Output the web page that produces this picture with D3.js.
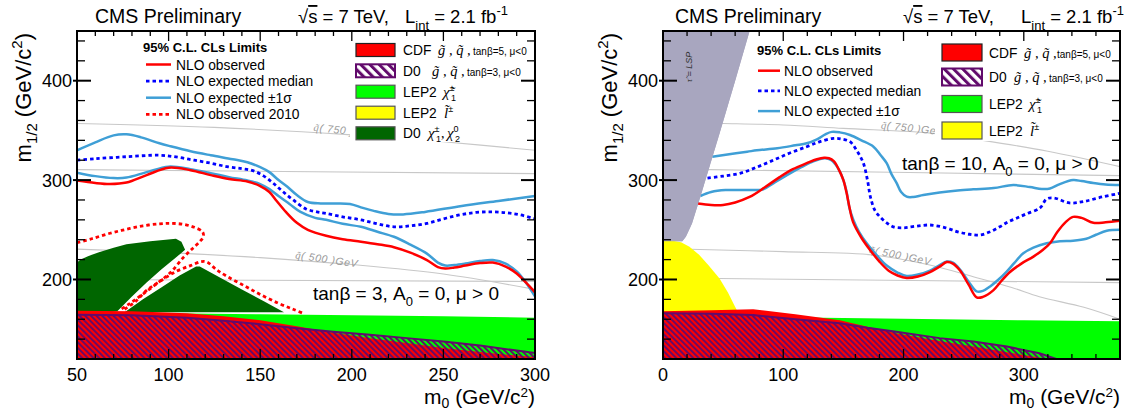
<!DOCTYPE html>
<html>
<head>
<meta charset="utf-8">
<script src="https://cdn.jsdelivr.net/npm/d3@7"></script>
<style>
  body { margin: 0; background: #fff; }
  svg { display: block; font-family: "Liberation Sans", Arial, Helvetica, sans-serif; }
</style>
</head>
<body>
<svg id="chart" width="1126" height="412"></svg>
<script>
// ---------------- data: points are [m0, m1/2] in GeV/c^2 ----------------

// common
const yDomain = [120, 450];
const yMajorTicks = [200, 300, 400];
const xTicksL = [50, 100, 150, 200, 250, 300];
const xTicksR = [0, 100, 200, 300];

// ---- left panel: tanβ = 3 ----
const obsL = [[50,299.5],[60,297],[68,296],[77,297.5],[88,305],[100,312.5],[112,310],[123,305],[133,301],[143,298.5],[150,294],[155,288],[159,279],[164,268],[170,257],[176,250],[186,244],[195,240.5],[205,238],[214,235.5],[223,232.5],[232,227],[241,219.5],[247,212.5],[251,211],[256,212],[262,214],[270,216.5],[277,217],[284,213],[290,206],[295,197],[300,187]];
const expL = [[50,320],[60,321.5],[77,323.5],[95,325],[105,323],[114,320],[123,317],[132,313.5],[140,311.5],[146,309.5],[152,304],[157,297],[162,289],[168,280],[175,271],[181,268],[186,266.5],[195,263],[205,260],[214,256],[223,253],[232,254],[241,256.5],[250,261],[259,265],[268,267.5],[277,268],[285,267],[292,265],[300,261]];
const expUpL = [[50,330],[60,338],[70,345],[77,346],[85,343],[95,337],[101,334],[112,329],[123,325],[135,321],[143,318],[150,313],[155,308],[160,300],[165,293],[170,285],[176,278],[183,276.5],[190,276.5],[199,276],[206,272],[212,269],[220,266],[228,265.5],[240,268],[260,274],[280,279],[300,284]];
const expDnL = [[50,307.5],[60,304],[70,302],[77,302.5],[88,308],[100,313.5],[112,311],[123,307],[133,303],[143,299.5],[150,296],[155,291],[160,284],[166,276],[172,268],[180,262],[186,260],[195,256],[205,253],[214,248],[223,243],[232,235],[241,226],[247,217],[251,214],[256,214.5],[262,216],[270,218.5],[277,219.5],[284,216],[290,208],[295,197],[300,183]];
const obs2010aL = [[50,237],[58,241],[68,246.5],[77,250.5],[86,254],[95,256],[101,256.5],[108,255.5],[114,252.5],[118.5,248],[119,243.5],[117,238],[113,231],[108,222],[101,207],[93,195],[85,184],[79,176],[74,170]];
const obs2010bL = [[76,170],[82,178],[88,189],[96,199],[104,208],[112,214],[118,218],[121,217.5],[126,210],[132,203],[141,194],[150,185],[160,176],[168,170],[174,165.5]];
const lepChiTopL = [[50,167],[100,166],[150,165],[200,164],[250,163],[300,161.5]];
const lepSlepL = [[50,120],[50,208],[55,202],[60,193],[64,183],[68,170],[69,120]];
const d0ChiAL = [[50,165],[50,217],[52,220],[56,223.5],[62,227.5],[70,232],[77,235.5],[90,238.5],[104,241],[107,238],[109,230],[104,222],[96,210],[88,197],[80,183],[72,168],[60,165]];
const d0ChiBL = [[76,167],[86,180],[96,192],[106,204],[115,213],[117,213],[128,202],[140,190],[152,178],[163,167]];
const cdfTopL = [[50,168.5],[80,168],[110,166],[130,163],[150,159],[170,153],[190,146.5],[210,141],[230,136],[250,131],[270,127],[290,123.5],[300,122]];
const d0TopL = [[50,164.5],[80,164],[110,161.5],[130,158.5],[150,155],[170,151],[190,147.5],[210,144.5],[230,141],[250,137.5],[270,133.5],[290,128.5],[300,126]];
const squark750L = [[50,357],[125,353],[200,345.5],[250,338.5],[300,330]];
const gluino750L = [[50,310.5],[300,306.5]];
const squark500L = [[50,230.5],[100,227],[150,222],[200,215],[250,205.5],[300,190]];
const gluino500L = [[50,200],[300,198]];

// ---- right panel: tanβ = 10 ----
const obsR = [[29,276.5],[40,275],[50,275],[60,277.5],[72,283],[85,293],[97,303],[108,311],[119.5,317],[128,321],[134,322.5],[138,322],[142,319],[146,311],[150,300],[152.5,288],[154.5,276],[158,258],[165,242],[172,230],[180,218],[188,208.5],[195,204],[202.6,201.5],[212,203],[222,207.5],[230,213],[236,217.5],[241,216],[247,209],[254,195],[260.8,182],[266,182.5],[274.6,189],[281,198],[288.5,207.5],[298,216],[308,223],[316,230],[321.8,236.5],[328,248],[335,258],[341,263],[348,262],[357.8,257],[368,257.5],[380,259]];
const expR = [[37,302],[50,304],[64,306.8],[78,313],[91.7,320],[105,327],[119.5,333.6],[130,338.5],[141.6,342],[148,341.5],[155.5,338.6],[161,330],[166.6,317],[170,300],[172.5,283],[176,270],[180.4,263],[186,257],[191.5,253],[200,252],[210,253.5],[222,254.8],[235,252],[245,248],[255,245.5],[263.6,244.7],[272,248],[280,253],[287,258],[294,261.6],[302,266],[313.5,272],[319,281],[325,282],[338,277],[350,278.5],[365,283],[380,286.7]];
const expUpR = [[41,323.5],[55,326],[70,328.5],[78,330],[95,332],[110,335],[119.5,337],[128,341],[135,346],[140.3,348.5],[147,348],[155.5,345.4],[165,340],[175,333.6],[181,325],[186,317],[190,306],[194.3,297],[198,288],[202.6,283.3],[208,283],[216.4,285],[230,287.5],[245,289.5],[258,290.7],[275,292],[291.3,295],[305,293],[315,291],[321.8,291.5],[330,296],[341,300],[348,299],[357.8,297],[368,295.5],[380,295]];
const expDnR = [[31,284],[40,288],[52,290],[64,290],[75,290],[83.4,290.7],[92,297],[105.6,306.8],[115,313],[125,319],[134.7,322],[140,320],[145,313],[150,300],[152.7,288],[155,272],[158.3,260],[163,248],[169.4,236.4],[178,224],[186,214],[195,207],[202.6,203.5],[212,205],[222,209],[230,214.5],[236,218],[241,217],[247,210],[254,198],[260.8,188],[266,188.5],[272,193],[279,200],[285.8,208],[292,216.5],[299.6,226.3],[308,232],[319,236.4],[330,238.5],[341,239],[352,241],[360,245],[369,249],[380,250]];
const stauR = [[0,450],[72,450],[60,400],[47,347],[39,315],[31,283],[24,256],[19,243],[16,238.5],[0,238.5]];
const lepChiTopR = [[0,164],[100,162],[200,160.5],[300,159],[380,158]];
const lepSlepR = [[0,120],[0,239],[8,239],[15,237.5],[22,233],[30,225],[38,214],[47,201],[54,187],[61,170],[62,120]];
const cdfTopR = [[0,168],[40,169],[75,170],[110,165],[147,159],[170,152.5],[194,146],[220,140],[258,132.5],[290,126],[320,120]];
const d0TopR = [[0,166],[40,165.5],[75,164.2],[110,160],[147,156],[170,151.5],[194,147.5],[230,141],[258,137.5],[286,132.5],[313,125.7],[327,120]];
const squark750R = [[0,358],[50,357],[100,355.5],[150,352],[225,347],[266,340],[320,329],[380,313.5]];
const gluino750R = [[0,311],[39,310.5],[380,304.5]];
const squark500R = [[0,231],[22.5,230.4],[100,228],[175,224.6],[220,215],[258,202.8],[290,192],[313,182.7],[350,172],[380,160]];
const gluino500R = [[0,201.5],[47,201],[380,196.8]];

// ---------------- styling ----------------
const SANS = '"Liberation Sans", Arial, Helvetica, sans-serif';
const SERIF = '"Liberation Serif", "Times New Roman", serif';
const C = {
  red: "#ff0000", blue: "#0000ff", azure: "#3f9fd6", lep: "#00ff00", slep: "#ffff00",
  d0chi: "#006600", purple: "#620a6c", stau: "#a8a6bf", iso: "#c8c8c8", isoText: "#999999"
};

const svg = d3.select("#chart");
const defs = svg.append("defs");

function hatchPattern(id, period, width) {
  const p = defs.append("pattern").attr("id", id)
    .attr("patternUnits", "userSpaceOnUse")
    .attr("width", period).attr("height", period)
    .attr("patternTransform", "rotate(-45)");
  p.append("rect").attr("width", width).attr("height", period).attr("fill", C.purple);
}
hatchPattern("d0hatch", 4.0, 1.9);
hatchPattern("d0hatchKey", 6.5, 3);

// text with sub/superscripts: parts [{t, shift, size, family, style, x, deco}]
function rich(parent, x, y, parts, opts = {}) {
  const t = parent.append("text").attr("x", x).attr("y", y)
    .attr("font-size", opts.size || 14).attr("fill", opts.fill || "#000");
  if (opts.weight) t.attr("font-weight", opts.weight);
  if (opts.anchor) t.attr("text-anchor", opts.anchor);
  if (opts.transform) t.attr("transform", opts.transform);
  let cur = 0;
  parts.forEach(p => {
    const ts = t.append("tspan").text(p.t);
    const target = p.shift || 0;
    if (p.x != null) ts.attr("x", p.x);
    if (target !== cur) ts.attr("dy", target - cur);
    cur = target;
    if (p.size) ts.attr("font-size", p.size);
    if (p.family) ts.attr("font-family", p.family);
    if (p.style) ts.attr("font-style", p.style);
    if (p.deco) ts.attr("text-decoration", p.deco);
  });
  return t;
}

function interp(arr, xv) {
  for (let i = 0; i < arr.length - 1; i++) {
    const a = arr[i], b = arr[i + 1];
    if (xv >= a[0] && xv <= b[0]) return a[1] + (b[1] - a[1]) * (xv - a[0]) / (b[0] - a[0]);
  }
  return arr[arr.length - 1][1];
}

function underTop(top) {
  return [[top[0][0], yDomain[0]], ...top, [top[top.length - 1][0], yDomain[0]]];
}

function drawPanel(cfg) {
  const x = d3.scaleLinear().domain(cfg.xDomain).range([cfg.x0, cfg.x1]);
  const y = d3.scaleLinear().domain(yDomain).range([359, 31]);
  const g = svg.append("g");
  const clipId = "clip-" + cfg.id;
  defs.append("clipPath").attr("id", clipId).append("rect")
    .attr("x", cfg.x0).attr("y", 31).attr("width", cfg.x1 - cfg.x0).attr("height", 328);
  const plot = g.append("g").attr("clip-path", `url(#${clipId})`);

  const poly = d3.line().x(d => x(d[0])).y(d => y(d[1]));
  const smooth = d3.line().x(d => x(d[0])).y(d => y(d[1])).curve(d3.curveCatmullRom.alpha(0.5));

  // iso-mass lines
  cfg.iso.forEach(l => plot.append("path").attr("d", smooth(l)).attr("fill", "none")
    .attr("stroke", C.iso).attr("stroke-width", 1.1));
  cfg.isoLabels.forEach(lab => {
    const px = x(lab.m0), py = y(interp(lab.line, lab.m0));
    const px2 = x(lab.m0 + 20), py2 = y(interp(lab.line, lab.m0 + 20));
    const ang = Math.atan2(py2 - py, px2 - px) * 180 / Math.PI + (lab.tilt || 0);
    rich(plot, 0, 0, [
      { t: "q\u0303", family: SERIF },
      { t: "( " + lab.mass + " )GeV" }
    ], { size: 10.5, fill: C.isoText, transform: `translate(${px},${py - 2}) rotate(${ang})` })
      .attr("font-style", "italic").attr("letter-spacing", 0.6);
  });

  // excluded regions
  plot.append("path").attr("d", poly(underTop(cfg.lepChiTop)) + "Z").attr("fill", C.lep);
  if (cfg.stau) plot.append("path").attr("d", poly(cfg.stau) + "Z").attr("fill", C.stau);
  plot.append("path").attr("d", poly(cfg.lepSlep) + "Z").attr("fill", C.slep);
  (cfg.d0Chi || []).forEach(p => plot.append("path").attr("d", poly(p) + "Z").attr("fill", C.d0chi));
  plot.append("path").attr("d", poly(underTop(cfg.cdfTop)) + "Z").attr("fill", C.red);
  plot.append("path").attr("d", poly(underTop(cfg.d0Top)) + "Z").attr("fill", "url(#d0hatch)");
  plot.append("path").attr("d", poly(cfg.d0Top)).attr("fill", "none")
    .attr("stroke", C.purple).attr("stroke-width", 2);

  // limit contours
  const curve = (data, color, dash, w) => plot.append("path").attr("d", smooth(data))
    .attr("fill", "none").attr("stroke", color).attr("stroke-width", w || 2.5)
    .attr("stroke-dasharray", dash || null).attr("stroke-linejoin", "round");
  (cfg.obs2010 || []).forEach(d => curve(d, C.red, "3.5,3", 2.8));
  curve(cfg.expUp, C.azure);
  curve(cfg.expDn, C.azure);
  curve(cfg.exp, C.blue, "3.5,3", 2.8);
  curve(cfg.obs, C.red);

  if (cfg.stau) {
    plot.append("path").attr("d", poly(cfg.stau) + "Z").attr("fill", C.stau);
    const lx = cfg.x0 + 29, ly = 67;
    rich(plot, 0, 0, [{ t: "\u03C4\u0303", family: SERIF }, { t: " = LSP" }],
      { size: 9, fill: "#333", anchor: "middle", transform: `translate(${lx},${ly}) rotate(-90)` })
      .attr("font-style", "italic");
  }

  // benchmark text
  rich(g, cfg.tanb.x, cfg.tanb.y, [
    { t: "tan\u03B2 = " + cfg.tanb.v + ", A" },
    { t: "0", shift: 6, size: 13 },
    { t: " = 0, \u03BC > 0", shift: 0 }
  ], { size: 19 });

  // line legend
  const LL = cfg.lineLegend;
  g.append("text").attr("x", LL.x).attr("y", LL.header).attr("font-size", 13)
    .attr("font-weight", "bold").text("95% C.L. CLs Limits");
  LL.rows.forEach((r, i) => {
    const cy = LL.y0 + i * LL.dy;
    g.append("line").attr("x1", LL.lx0).attr("x2", LL.lx1).attr("y1", cy).attr("y2", cy)
      .attr("stroke", r.color).attr("stroke-width", r.dash ? 2.8 : 2.5)
      .attr("stroke-dasharray", r.dash || null);
    g.append("text").attr("x", LL.tx).attr("y", cy + 5).attr("font-size", 13.8).text(r.label);
  });

  // box legend
  const BL = cfg.boxLegend;
  g.append("rect").attr("x", BL.bgX).attr("y", 37).attr("width", cfg.x1 - BL.bgX - 1)
    .attr("height", BL.bgH).attr("fill", "#fff");
  BL.rows.forEach((r, i) => {
    const cy = BL.centers[i];
    const box = g.append("rect").attr("x", BL.bx).attr("y", cy - BL.bh / 2)
      .attr("width", BL.bw).attr("height", BL.bh);
    if (r.kind === "hatch") {
      box.attr("fill", "url(#d0hatchKey)").attr("stroke", C.purple).attr("stroke-width", 2);
    } else {
      box.attr("fill", r.fill).attr("stroke", r.kind === "cdf" ? "#222" : "#555").attr("stroke-width", 1.2);
    }
    const ty = cy + 5;
    const tx = BL.tx;
    if (r.kind === "cdf" || r.kind === "hatch") {
      rich(g, tx, ty, [
        { t: r.exp },
        { t: "g\u0303 , q\u0303 ,", x: tx + r.o1, family: SERIF, style: "italic", size: 14.5 },
        { t: r.note, x: tx + r.o2, size: 10 }
      ], { size: 13.8 });
    } else if (r.kind === "chi") {
      rich(g, tx, ty, [
        { t: "LEP2" },
        { t: "\u03C7\u0303", x: tx + BL.symOff, family: SERIF, style: "italic", size: 15 },
        { t: "\u00B1", shift: -6, size: 9 },
        { t: "1", x: tx + BL.symOff + 8, shift: 4, size: 9 }
      ], { size: 13.8 });
    } else if (r.kind === "slep") {
      rich(g, tx, ty, [
        { t: "LEP2" },
        { t: "l\u0303", x: tx + BL.symOff + 1, family: SERIF, style: "italic", size: 15 },
        { t: "\u00B1", shift: -6, size: 9 }
      ], { size: 13.8 });
    } else if (r.kind === "d0chi") {
      rich(g, tx, ty, [
        { t: "D0" },
        { t: "\u03C7", x: tx + 25, family: SERIF, style: "italic", size: 15 },
        { t: "\u00B1", shift: -6, size: 9 },
        { t: "1", x: tx + 33, shift: 4, size: 9 },
        { t: ",", shift: 0, size: 14, family: SERIF },
        { t: "\u03C7", x: tx + 44, family: SERIF, style: "italic", size: 15 },
        { t: "0", shift: -6, size: 9 },
        { t: "2", x: tx + 52, shift: 4, size: 9 }
      ], { size: 13.8 });
    }
  });

  // frame and ticks
  const ax = g.append("g").attr("stroke", "#000");
  const xMinor = d3.range(cfg.xDomain[0], cfg.xDomain[1] + 0.01, cfg.xMinorStep);
  xMinor.forEach(v => {
    const major = cfg.xTicks.includes(v);
    const len = major ? 10 : 5;
    ax.append("line").attr("x1", x(v)).attr("x2", x(v)).attr("y1", 359).attr("y2", 359 - len).attr("stroke-width", 1.3);
    ax.append("line").attr("x1", x(v)).attr("x2", x(v)).attr("y1", 31).attr("y2", 31 + len).attr("stroke-width", 1.3);
  });
  d3.range(yDomain[0], yDomain[1] + 0.01, 20).forEach(v => {
    const major = yMajorTicks.includes(v);
    const len = major ? 14 : 8;
    ax.append("line").attr("x1", cfg.x0 - (major ? 4 : 0)).attr("x2", cfg.x0 + len)
      .attr("y1", y(v)).attr("y2", y(v)).attr("stroke-width", major ? 2 : 1.3);
    ax.append("line").attr("x1", cfg.x1).attr("x2", cfg.x1 - len)
      .attr("y1", y(v)).attr("y2", y(v)).attr("stroke-width", major ? 2 : 1.3);
  });
  g.append("rect").attr("x", cfg.x0).attr("y", 31).attr("width", cfg.x1 - cfg.x0).attr("height", 328)
    .attr("fill", "none").attr("stroke", "#000").attr("stroke-width", 2);

  cfg.xTicks.forEach(v => g.append("text").attr("x", x(v)).attr("y", 380.5)
    .attr("text-anchor", "middle").attr("font-size", 18).text(v));
  yMajorTicks.forEach(v => g.append("text").attr("x", cfg.x0 - 5).attr("y", y(v)).attr("dy", "0.36em")
    .attr("text-anchor", "end").attr("font-size", 18).text(v));

  // axis titles
  rich(g, cfg.x1, 404, [
    { t: "m" }, { t: "0", shift: 4, size: 14 }, { t: " (GeV/c", shift: 0 },
    { t: "2", shift: -7, size: 13.5 }, { t: ")", shift: 0 }
  ], { size: 21, anchor: "end" });
  rich(g, 0, 0, [
    { t: "m" }, { t: "1/2", shift: 6, size: 15 }, { t: " (GeV/c", shift: 0 },
    { t: "2", shift: -9, size: 15 }, { t: ")", shift: 0 }
  ], { size: 22, anchor: "end", transform: `translate(${cfg.x0 - 46},33) rotate(-90)` });

  // header
  g.append("text").attr("x", cfg.title.cms).attr("y", 23).attr("font-size", 19.5).text("CMS Preliminary");
  rich(g, cfg.title.rs, 23, [
    { t: "\u221A" }, { t: "s", deco: "overline" }, { t: " = 7 TeV," }
  ], { size: 18.5 });
  rich(g, cfg.title.lum, 23, [
    { t: "L" }, { t: "int", shift: 7, size: 13 }, { t: " = 2.1 fb", shift: 0 },
    { t: "-1", shift: -8, size: 13 }
  ], { size: 18.5 });
}

const lineRowsL = [
  { label: "NLO observed", color: C.red },
  { label: "NLO expected median", color: C.blue, dash: "3.5,3" },
  { label: "NLO expected \u00B11\u03C3", color: C.azure },
  { label: "NLO observed 2010", color: C.red, dash: "3.5,3" }
];
const boxRowsL = [
  { kind: "cdf", fill: C.red, exp: "CDF", note: "tan\u03B2=5, \u03BC<0", o1: 35, o2: 70 },
  { kind: "hatch", exp: "D0", note: "tan\u03B2=3, \u03BC<0", o1: 29, o2: 64 },
  { kind: "chi", fill: C.lep },
  { kind: "slep", fill: C.slep },
  { kind: "d0chi", fill: C.d0chi }
];
const boxRowsR = [
  { kind: "cdf", fill: C.red, exp: "CDF", note: "tan\u03B2=5, \u03BC<0", o1: 35, o2: 68 },
  { kind: "hatch", exp: "D0", note: "tan\u03B2=3, \u03BC<0", o1: 25, o2: 60 },
  { kind: "chi", fill: C.lep },
  { kind: "slep", fill: C.slep }
];

drawPanel({
  id: "left", xDomain: [50, 300], x0: 77, x1: 535, xTicks: xTicksL, xMinorStep: 10,
  obs: obsL, exp: expL, expUp: expUpL, expDn: expDnL, obs2010: [obs2010aL, obs2010bL],
  lepChiTop: lepChiTopL, lepSlep: lepSlepL, d0Chi: [d0ChiAL, d0ChiBL],
  cdfTop: cdfTopL, d0Top: d0TopL,
  iso: [squark750L, gluino750L, squark500L, gluino500L],
  isoLabels: [{ line: squark750L, m0: 179, mass: 750, tilt: 3 }, { line: squark500L, m0: 169, mass: 500, tilt: 4 }],
  tanb: { x: 313, y: 300, v: 3 },
  lineLegend: { x: 143, header: 52, y0: 64.5, dy: 16.6, lx0: 146, lx1: 171, tx: 176, rows: lineRowsL },
  boxLegend: { bgX: 350, bgH: 105, bx: 356, bw: 39, bh: 13, tx: 403, symOff: 40,
               centers: [50, 70.8, 91.7, 112.7, 133.3], rows: boxRowsL },
  title: { cms: 95, rs: 298, lum: 405 }
});

drawPanel({
  id: "right", xDomain: [0, 380], x0: 663, x1: 1120, xTicks: xTicksR, xMinorStep: 20,
  obs: obsR, exp: expR, expUp: expUpR, expDn: expDnR, stau: stauR,
  lepChiTop: lepChiTopR, lepSlep: lepSlepR,
  cdfTop: cdfTopR, d0Top: d0TopR,
  iso: [squark750R, gluino750R, squark500R, gluino500R],
  isoLabels: [{ line: squark750R, m0: 181, mass: 750, tilt: 3 }, { line: squark500R, m0: 171, mass: 500, tilt: 3 }],
  tanb: { x: 902, y: 170, v: 10 },
  lineLegend: { x: 757, header: 55, y0: 70.7, dy: 20.2, lx0: 758, lx1: 780, tx: 784, rows: lineRowsL.slice(0, 3) },
  boxLegend: { bgX: 935, bgH: 104, bx: 942, bw: 40, bh: 17, tx: 989, symOff: 40,
               centers: [52.5, 77, 104, 130.5], rows: boxRowsR },
  title: { cms: 675, rs: 903, lum: 1021 }
});
</script>
</body>
</html>
